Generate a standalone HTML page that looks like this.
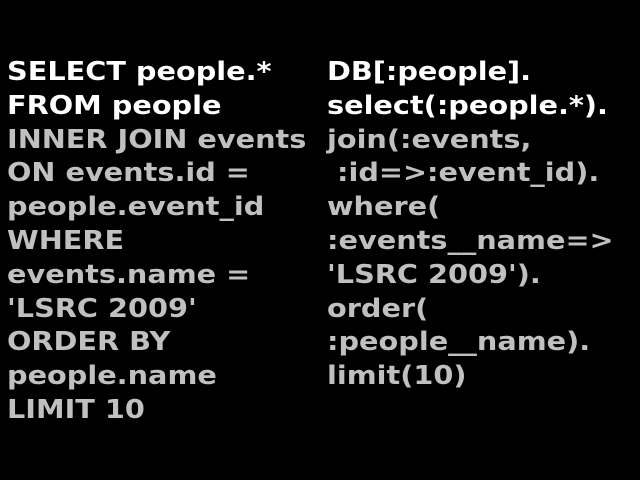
<!DOCTYPE html>
<html><head><style>
html,body{margin:0;padding:0;background:#000;width:640px;height:480px;overflow:hidden}
.c{position:absolute;top:56px;font-family:"DejaVu Sans",sans-serif;font-weight:bold;font-size:26px;line-height:33.8px;color:#c0c0c0;white-space:pre;transform:scaleX(1.105);transform-origin:0 0}
.w{color:#fff}
</style></head><body>
<div class="c" style="left:7px"><span class="w">SELECT people.*
FROM people</span>
INNER JOIN events
ON events.id =
people.event_id
WHERE
events.name =
'LSRC 2009'
ORDER BY
people.name
LIMIT 10</div>
<div class="c" style="left:327px"><span class="w">DB[:people].
select(:people.*).</span>
join(:events,
 :id=>:event_id).
where(
:events__name=>
'LSRC 2009').
order(
:people__name).
limit(10)</div>
</body></html>
